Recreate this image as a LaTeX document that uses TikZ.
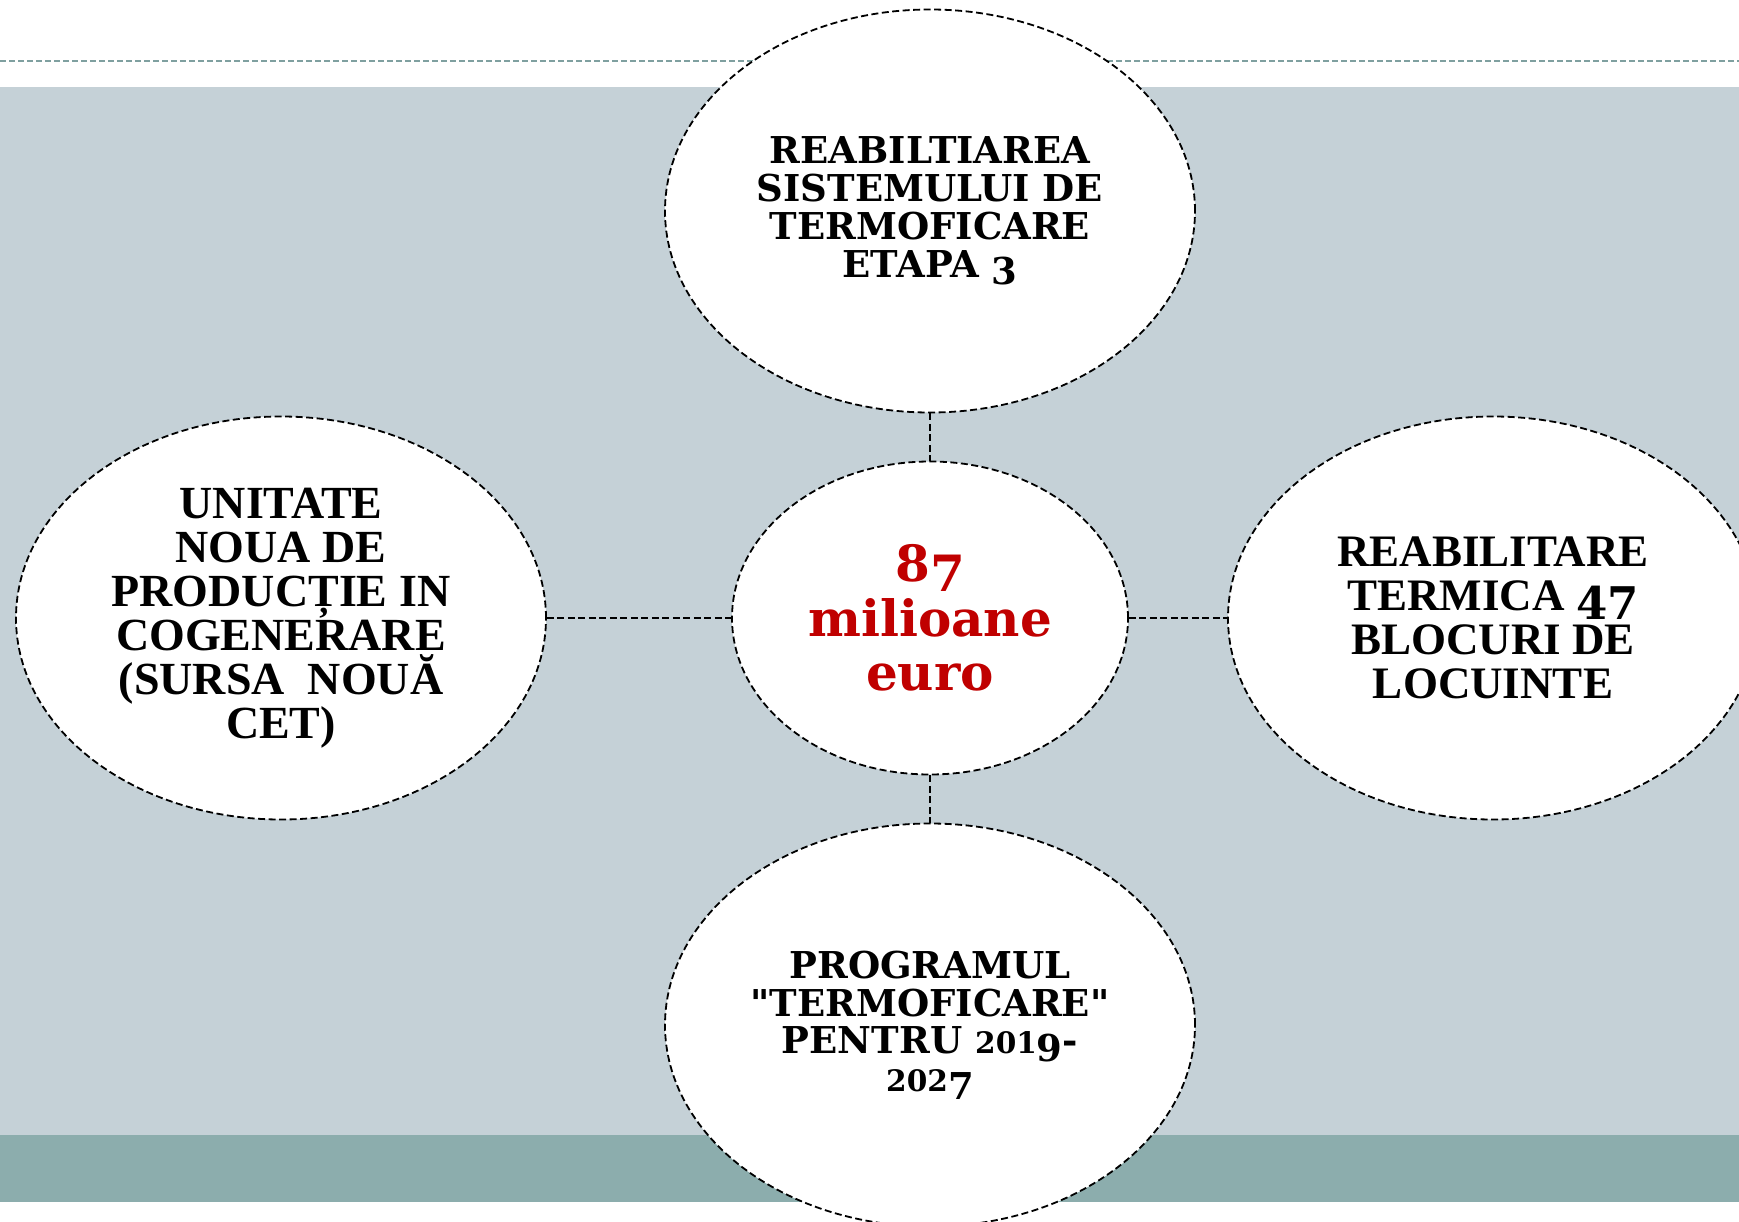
\documentclass[tikz,border=0pt]{standalone}
\usepackage{fontspec}
\setmainfont{Liberation Serif}
\newfontfamily\geo{DejaVu Serif}
\usetikzlibrary{shapes.geometric}
% old-style figure imitation: small figures and descending figures
\newcommand\osS[1]{\scalebox{0.8}{#1}}
\newcommand\osD[1]{\raisebox{-0.2em}{#1}}
\definecolor{bgray}{HTML}{C5D1D7}
\definecolor{bteal}{HTML}{8CADAD}
\definecolor{dline}{HTML}{7FA0A0}
\definecolor{redtxt}{HTML}{C00000}
\begin{document}
\begin{tikzpicture}[x=1pt,y=-1pt,
  bubble/.style={ellipse, draw=black, fill=white, line width=1.8pt,
    dash pattern=on 7pt off 3.5pt, inner sep=0pt, align=center, text=black},
  bigbubble/.style={bubble, minimum width=530pt, minimum height=403pt},
  link/.style={draw=black, line width=1.8pt, dash pattern=on 7pt off 3.5pt},
  geotext/.style={font=\geo\bfseries\fontsize{37}{37.8}\selectfont},
  timestext/.style={font=\bfseries\fontsize{#1}{44}\selectfont}]
\useasboundingbox (0,0) rectangle (1739,1222);
\clip (0,0) rectangle (1739,1222);
\fill[white] (0,0) rectangle (1739,1222);
\fill[bgray] (0,87) rectangle (1739,1135);
\fill[bteal] (0,1135) rectangle (1739,1202);
\draw[dline, line width=1.3pt, dash pattern=on 6pt off 3pt] (0,61) -- (1739,61);

\node[bigbubble, geotext] (top) at (930,211)
  {REABILTIAREA\\SISTEMULUI DE\\TERMOFICARE\\ETAPA \osD{3}};
\node[bubble, minimum width=396pt, minimum height=313pt, text=redtxt,
  font=\geo\bfseries\fontsize{50}{54.5}\selectfont] (mid) at (930,618)
  {8\osD{7}\\milioane\\euro};
\node[bigbubble, timestext=46] (left) at (281,618)
  {UNITATE\\NOUA DE\\PRODUCȚIE IN\\COGENERARE\\(SURSA\ \ NOUĂ\\CET)};
\node[bigbubble, timestext=45] (right) at (1493,618)
  {REABILITARE\\TERMICA {\geo\osD{47}}\\BLOCURI DE\\LOCUINTE};
\node[bigbubble, geotext] (bottom) at (930,1025)
  {PROGRAMUL\\"TERMOFICARE"\\PENTRU \osS{201}\osD{9}-\\\osS{202}\osD{7}};

\draw[link] (top.south) -- (mid.north);
\draw[link] (mid.south) -- (bottom.north);
\draw[link] (left.east) -- (mid.west);
\draw[link] (mid.east) -- (right.west);
\end{tikzpicture}
\end{document}
